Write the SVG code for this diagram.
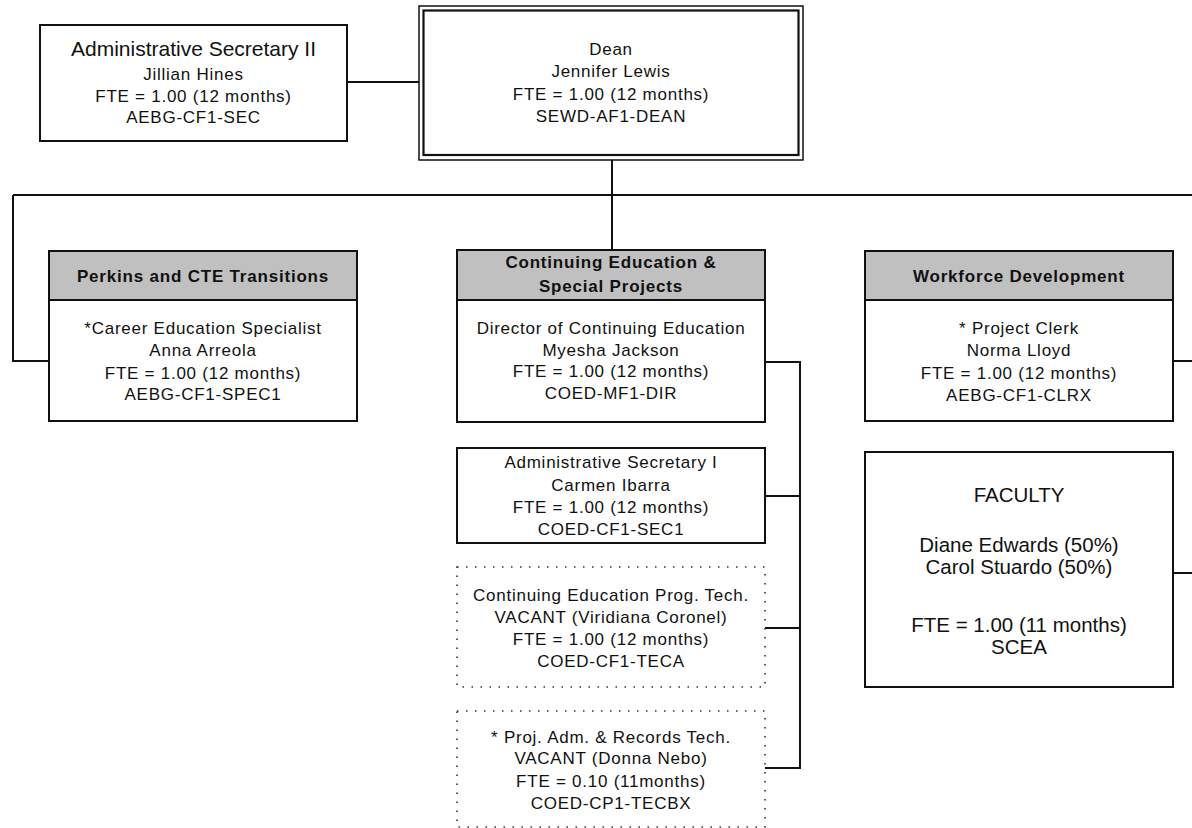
<svg xmlns="http://www.w3.org/2000/svg" width="1192" height="828" viewBox="0 0 1192 828">
  <style>
    .box { fill: #ffffff; stroke: #111111; stroke-width: 2; }
    .head { fill: #c0c0c0; stroke: #111111; stroke-width: 2; }
    .dot { fill: #ffffff; stroke: #333333; stroke-width: 1.6; stroke-dasharray: 1.5 7.5; }
    .wire { fill: none; stroke: #111111; stroke-width: 2; }
    text { font-family: "Liberation Sans", Arial, sans-serif; fill: #111111; text-anchor: middle; }
    .t { font-size: 17px; letter-spacing: 0.75px; }
    .h { font-size: 17px; font-weight: bold; letter-spacing: 0.8px; }
    .big { font-size: 21px; }
    .fac { font-size: 20.5px; }
  </style>

  <!-- reporting lines -->
  <g id="connectors">
    <line class="wire" x1="347" y1="82" x2="419" y2="82"/>
    <line class="wire" x1="612" y1="160" x2="612" y2="250"/>
    <line class="wire" x1="13" y1="195" x2="1192" y2="195"/>
    <polyline class="wire" points="13,195 13,361 49,361"/>
    <line class="wire" x1="1173" y1="361" x2="1192" y2="361"/>
    <line class="wire" x1="1173" y1="573" x2="1192" y2="573"/>
    <polyline class="wire" points="765,362 800,362 800,768 765,768"/>
    <line class="wire" x1="765" y1="496" x2="800" y2="496"/>
    <line class="wire" x1="765" y1="628" x2="800" y2="628"/>
  </g>

  <g id="admin-secretary-2">
    <rect class="box" x="40" y="25" width="307" height="116"/>
    <text class="big" x="193.5" y="56">Administrative Secretary II</text>
    <text class="t" x="193.5" y="80">Jillian Hines</text>
    <text class="t" x="193.5" y="102">FTE = 1.00 (12 months)</text>
    <text class="t" x="193.5" y="123">AEBG-CF1-SEC</text>
  </g>

  <g id="dean">
    <rect x="419" y="6" width="384" height="154" fill="#ffffff" stroke="#111111" stroke-width="1.5"/>
    <rect x="423.5" y="10.5" width="375" height="144.5" fill="none" stroke="#111111" stroke-width="2.2"/>
    <text class="t" x="611" y="55">Dean</text>
    <text class="t" x="611" y="77">Jennifer Lewis</text>
    <text class="t" x="611" y="100">FTE = 1.00 (12 months)</text>
    <text class="t" x="611" y="122">SEWD-AF1-DEAN</text>
  </g>

  <g id="perkins-cte">
    <rect class="box" x="49" y="251" width="308" height="170"/>
    <rect class="head" x="49" y="251" width="308" height="49"/>
    <text class="h" x="203" y="282">Perkins and CTE Transitions</text>
    <text class="t" x="203" y="334">*Career Education Specialist</text>
    <text class="t" x="203" y="356">Anna Arreola</text>
    <text class="t" x="203" y="379">FTE = 1.00 (12 months)</text>
    <text class="t" x="203" y="400">AEBG-CF1-SPEC1</text>
  </g>

  <g id="continuing-education">
    <rect class="box" x="457" y="250" width="308" height="172"/>
    <rect class="head" x="457" y="250" width="308" height="50"/>
    <text class="h" x="611" y="268">Continuing Education &amp;</text>
    <text class="h" x="611" y="292">Special Projects</text>
    <text class="t" x="611" y="334">Director of Continuing Education</text>
    <text class="t" x="611" y="356">Myesha Jackson</text>
    <text class="t" x="611" y="377">FTE = 1.00 (12 months)</text>
    <text class="t" x="611" y="399">COED-MF1-DIR</text>
  </g>

  <g id="admin-secretary-1">
    <rect class="box" x="457" y="448" width="308" height="95"/>
    <text class="t" x="611" y="468">Administrative Secretary I</text>
    <text class="t" x="611" y="491">Carmen Ibarra</text>
    <text class="t" x="611" y="513">FTE = 1.00 (12 months)</text>
    <text class="t" x="611" y="535">COED-CF1-SEC1</text>
  </g>

  <g id="prog-tech">
    <rect class="dot" x="457" y="567" width="308" height="120"/>
    <text class="t" x="611" y="601">Continuing Education Prog. Tech.</text>
    <text class="t" x="611" y="623">VACANT (Viridiana Coronel)</text>
    <text class="t" x="611" y="645">FTE = 1.00 (12 months)</text>
    <text class="t" x="611" y="667">COED-CF1-TECA</text>
  </g>

  <g id="records-tech">
    <rect class="dot" x="457" y="711" width="308" height="116"/>
    <text class="t" x="611" y="743">* Proj. Adm. &amp; Records Tech.</text>
    <text class="t" x="611" y="764">VACANT (Donna Nebo)</text>
    <text class="t" x="611" y="787">FTE = 0.10 (11months)</text>
    <text class="t" x="611" y="809">COED-CP1-TECBX</text>
  </g>

  <g id="workforce-development">
    <rect class="box" x="865" y="251" width="308" height="170"/>
    <rect class="head" x="865" y="251" width="308" height="49"/>
    <text class="h" x="1019" y="282">Workforce Development</text>
    <text class="t" x="1019" y="334">* Project Clerk</text>
    <text class="t" x="1019" y="356">Norma Lloyd</text>
    <text class="t" x="1019" y="379">FTE = 1.00 (12 months)</text>
    <text class="t" x="1019" y="401">AEBG-CF1-CLRX</text>
  </g>

  <g id="faculty">
    <rect class="box" x="865" y="452" width="308" height="235"/>
    <text class="fac" x="1019" y="502">FACULTY</text>
    <text class="fac" x="1019" y="552">Diane Edwards (50%)</text>
    <text class="fac" x="1019" y="574">Carol Stuardo (50%)</text>
    <text class="fac" x="1019" y="632">FTE = 1.00 (11 months)</text>
    <text class="fac" x="1019" y="654">SCEA</text>
  </g>
</svg>
